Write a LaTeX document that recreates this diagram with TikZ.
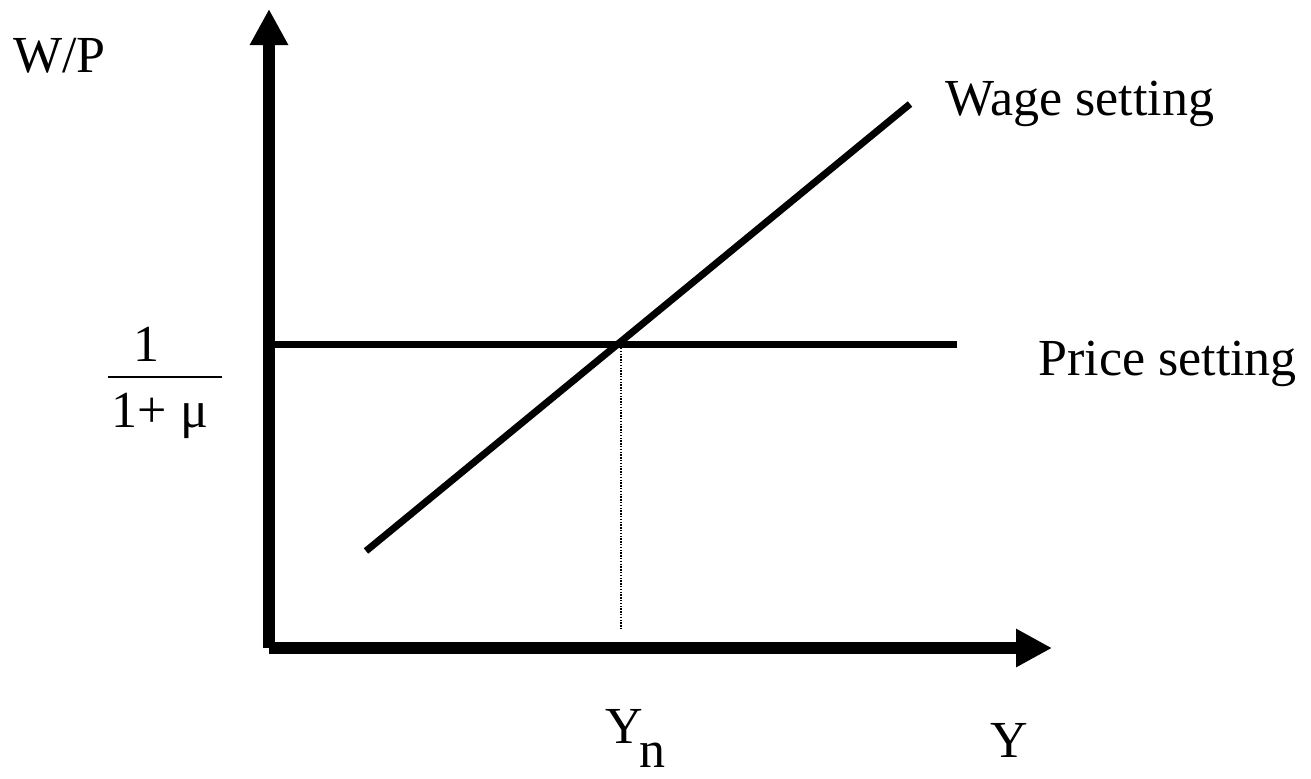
\documentclass[tikz,border=0pt]{standalone}
\usepackage{fontspec}
\setmainfont{Liberation Serif}
\usetikzlibrary{arrows.meta}
\begin{document}
\begin{tikzpicture}[x=0.5pt,y=-0.5pt,
  axis/.style={line width=6pt,-{Triangle[length=18pt,width=18pt]}},
  curve/.style={line width=3.5pt},
  guide/.style={line width=0.7pt,dash pattern=on 0.7pt off 0.7pt},
  lbl/.style={inner sep=0pt,font=\fontsize{26pt}{30pt}\selectfont}]
\useasboundingbox (0,0) rectangle (1311,778);
% axes
\coordinate (O) at (269,648);
\coordinate (ytip) at (269,9);
\coordinate (xtip) at (1052,648);
\draw[axis] (O) -- (ytip);
\draw[axis] (O) -- (xtip);
% curves
\coordinate (ps1) at (275,344.5);
\coordinate (ps2) at (957,344.5);
\draw[curve] (ps1) -- (ps2);
\coordinate (ws1) at (366,551);
\coordinate (ws2) at (910,104);
\draw[curve] (ws1) -- (ws2);
% guide
\coordinate (g1) at (621,348);
\coordinate (g2) at (621,630);
\draw[guide] (g1) -- (g2);
% labels
\node[lbl,anchor=base west] (wp) at (13,72) {W/P};
\node[lbl,anchor=base west] (wage) at (945,115) {Wage setting};
\node[lbl,anchor=base west] (price) at (1038,375) {Price setting};
\node[lbl,anchor=base west] (yax) at (990,757) {Y};
\node[lbl,anchor=base west] (yn) at (605,743) {Y};
\node[lbl,anchor=base west,text depth=0pt] (ynsub) at (639,767) {n};
\node[lbl,anchor=base] (num) at (146.5,361) {1};
\node[lbl,anchor=base] (den) at (160,427) {1+ μ};
\coordinate (bar1) at (108,377);
\coordinate (bar2) at (222,377);
\draw[line width=1pt] (bar1) -- (bar2);
\end{tikzpicture}
\end{document}
